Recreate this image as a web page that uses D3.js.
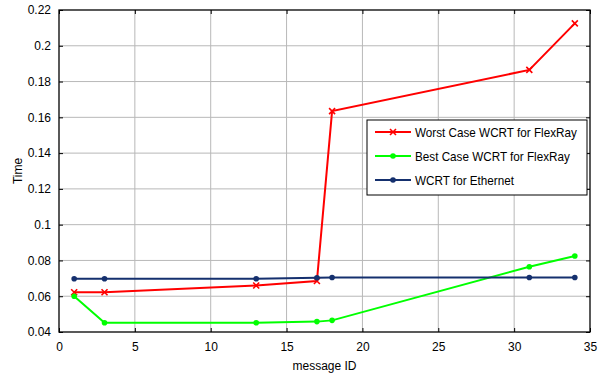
<!DOCTYPE html>
<meta charset="utf-8">
<style>
body { margin: 0; background: #fff; }
text { font-family: "Liberation Sans", Arial, sans-serif; }
.grid line { stroke: #b8b8b8; stroke-width: 1; }
</style>
<body>
<script src="https://cdn.jsdelivr.net/npm/d3@7/dist/d3.min.js"></script>
<script>

var msgId = [1, 3, 13, 17, 18, 31, 34];
var worstFlexRay = [0.0622, 0.0622, 0.0660, 0.0685, 0.1635, 0.1865, 0.2125];
var bestFlexRay = [0.0600, 0.0452, 0.0452, 0.0458, 0.0465, 0.0765, 0.0825];
var ethernet = [0.0698, 0.0698, 0.0698, 0.0703, 0.0705, 0.0705, 0.0705];
var xTicks = [0, 5, 10, 15, 20, 25, 30, 35];
var yTicks = [0.04, 0.06, 0.08, 0.1, 0.12, 0.14, 0.16, 0.18, 0.2, 0.22];
var seriesNames = ["Worst Case WCRT for FlexRay", "Best Case WCRT for FlexRay", "WCRT for Ethernet"];

var margin = {top: 10, right: 24, bottom: 49, left: 59},
    width = 614 - margin.left - margin.right,
    height = 381 - margin.top - margin.bottom;

var x = d3.scaleLinear().domain([0, 35]).range([0, width]);
var y = d3.scaleLinear().domain([0.04, 0.22]).range([height, 0]);

var svg = d3.select("body").append("svg")
    .attr("width", 614)
    .attr("height", 381)
  .append("g")
    .attr("transform", "translate(" + margin.left + "," + margin.top + ")");

// grid
svg.append("g").attr("class", "grid")
  .selectAll("line").data(xTicks.slice(1, -1)).enter().append("line")
    .attr("x1", function(d) { return x(d); }).attr("x2", function(d) { return x(d); })
    .attr("y1", 0).attr("y2", height);
svg.append("g").attr("class", "grid")
  .selectAll("line").data(yTicks.slice(1, -1)).enter().append("line")
    .attr("y1", function(d) { return y(d); }).attr("y2", function(d) { return y(d); })
    .attr("x1", 0).attr("x2", width);

// axes with inward ticks
function styleAxis(g) {
  g.select(".domain").remove();
  g.selectAll("line").attr("stroke", "#000");
  g.selectAll("text").style("font-size", "12px").attr("fill", "#000");
}
svg.append("g")
    .attr("transform", "translate(0," + height + ")")
    .call(d3.axisBottom(x).tickValues(xTicks).tickSizeInner(-4).tickSizeOuter(0).tickPadding(10))
    .call(styleAxis);
svg.append("g")
    .call(d3.axisLeft(y).tickValues(yTicks).tickFormat(d3.format("")).tickSizeInner(-4).tickSizeOuter(0).tickPadding(8))
    .call(styleAxis);
svg.append("g")
    .call(d3.axisTop(x).tickValues(xTicks).tickSizeInner(-4).tickSizeOuter(0).tickFormat(""))
    .call(styleAxis);
svg.append("g")
    .attr("transform", "translate(" + width + ",0)")
    .call(d3.axisRight(y).tickValues(yTicks).tickSizeInner(-4).tickSizeOuter(0).tickFormat(""))
    .call(styleAxis);

svg.append("rect")
    .attr("width", width).attr("height", height)
    .attr("fill", "none").attr("stroke", "#000").attr("stroke-width", 1.3);

// labels
svg.append("text")
    .attr("x", width / 2).attr("y", height + 38)
    .attr("text-anchor", "middle").style("font-size", "12px")
    .text("message ID");
svg.append("text")
    .attr("transform", "translate(-37," + (height / 2) + ") rotate(-90)")
    .attr("text-anchor", "middle").style("font-size", "12px")
    .text("Time");

var line = d3.line()
    .x(function(d) { return x(d[0]); })
    .y(function(d) { return y(d[1]); });

var series = [
  {values: worstFlexRay, color: "#ff0000", marker: "x"},
  {values: bestFlexRay, color: "#00ff00", marker: "dot"},
  {values: ethernet, color: "#15306e", marker: "dot"}
];

function drawMarker(g, px, py, s) {
  if (s.marker == "x") {
    g.append("path")
      .attr("d", "M" + (px - 3) + "," + (py - 3) + "L" + (px + 3) + "," + (py + 3) +
                 "M" + (px - 3) + "," + (py + 3) + "L" + (px + 3) + "," + (py - 3))
      .attr("stroke", s.color).attr("stroke-width", 1.6);
  } else {
    g.append("circle").attr("cx", px).attr("cy", py).attr("r", 2.8).attr("fill", s.color);
  }
}

series.forEach(function(s) {
  var pts = msgId.map(function(m, i) { return [m, s.values[i]]; });
  var g = svg.append("g");
  g.append("path")
      .datum(pts)
      .attr("fill", "none")
      .attr("stroke", s.color)
      .attr("stroke-width", 2)
      .attr("d", line);
  pts.forEach(function(p) { drawMarker(g, x(p[0]), y(p[1]), s); });
});

// legend
var lg = svg.append("g").attr("transform", "translate(" + (367 - margin.left) + "," + (120 - margin.top) + ")");
lg.append("rect")
    .attr("width", 220).attr("height", 75)
    .attr("fill", "#fff").attr("stroke", "#000").attr("stroke-width", 1);
series.forEach(function(s, i) {
  var ly = 12 + i * 24;
  lg.append("line")
      .attr("x1", 8).attr("x2", 44).attr("y1", ly).attr("y2", ly)
      .attr("stroke", s.color).attr("stroke-width", 2);
  drawMarker(lg, 26, ly, s);
  lg.append("text")
      .attr("transform", "translate(48," + (ly + 4.5) + ") scale(0.9,1)")
      .style("font-size", "13px")
      .text(seriesNames[i]);
});

</script>
</body>
